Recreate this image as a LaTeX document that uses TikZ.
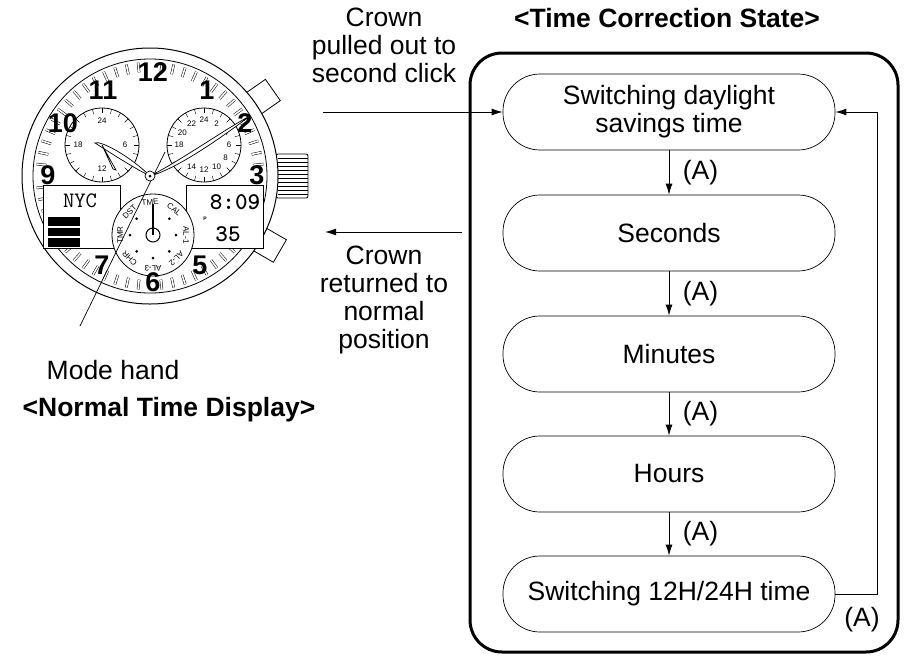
\documentclass[tikz,border=0pt]{standalone}
\usepackage{fontspec}
\setmainfont{Liberation Sans}
\usetikzlibrary{arrows.meta}
\usetikzlibrary{positioning}

\tikzset{
  state/.style={draw, line width=0.7pt, rounded corners=37pt, minimum width=332pt,
    minimum height=76pt, align=center, font=\fontsize{26.5}{28}\selectfont},
  arr/.style={line width=1pt, -{Latex[length=11pt,width=7pt]}},
  lbl/.style={font=\fontsize{26.5}{28}\selectfont, align=center},
  numb/.style={font=\fontsize{27}{27}\selectfont\bfseries},
  small/.style={font=\fontsize{8}{8}\selectfont, inner sep=0pt},
}

\begin{document}
\begin{tikzpicture}[x=1pt,y=-1pt]
\useasboundingbox (0,0) rectangle (912,662);

% watch
\begin{scope}[shift={(150,176)}]
\draw[line width=0.8pt,rotate=-30,fill=white] (112,-13) rectangle (150,13);
\draw[line width=0.8pt,rotate=35,fill=white] (112,-13) rectangle (150,13);
\draw[line width=0.8pt,fill=white,rounded corners=2pt] (126,-22) rectangle (158,22);
\foreach \y in {-18,-14,...,18}
  \draw (128,\y) -- (158,\y);
\draw[line width=1pt,fill=white] (0,0) circle (128);
\draw[line width=0.8pt] (0,0) circle (117);
\foreach \a in {0,6,...,354}
  \draw[double, double distance=1.6pt, line width=0.5pt] (\a:104) -- (\a:114);
\fill[white] (0,0) circle (100);
% lcds
\draw[line width=0.8pt,fill=white] (-107,9) rectangle (-30,72);
\draw[line width=0.8pt,fill=white] (36,9) rectangle (113,72);
\foreach \y in {41,51.5,62}
  \fill (-102,\y) rectangle (-70,\y+8.5);
\node[font=\fontsize{22}{22}\selectfont\ttfamily] (city) at (-70,25) {NYC};
\node[font=\fontsize{24}{24}\selectfont\ttfamily\bfseries] (time) at (85,26) {8:09};
\node[font=\fontsize{24}{24}\selectfont\ttfamily\bfseries] (secs) at (78,58) {35};
\node[font=\tiny\bfseries] (pm) at (55,43) {P};
% subdials
\foreach \cx/\cy/\r in {-48/-31/37, 54/-31/37, 3/59/41}
{
  \draw[line width=0.8pt,fill=white] (\cx,\cy) circle (\r);
}
\foreach \a in {0,15,...,345}
{
  \draw (-48,-31) ++(\a:32) -- ++(\a:5);
  \draw (54,-31) ++(\a:32) -- ++(\a:5);
}
\node[small] at (-48,-55) {24};
\node[small] at (-25,-31) {6};
\node[small] at (-48,-7) {12};
\node[small] at (-72,-31) {18};
\foreach \n/\a in {24/90,2/60,4/30,6/0,8/-30,10/-60,12/-90,14/-120,18/180,20/150,22/120}
  \node[small] at ([shift={(-\a:25)}]54,-31) {\n};
\foreach \t/\a in {TME/95,CAL/50,AL-1/0,AL-2/-45,AL-3/-90,CHR/-135,TMR/180,DST/135}
  \node[small,rotate={\a-90}] at ([shift={(-\a:33)}]3,59) {\t};
\foreach \a in {135,45,0,-45,-90,-135,180}
  \fill ([shift={(-\a:23)}]3,59) circle (1.5);
\draw[line width=1pt] (3,59) circle (7);
\draw[line width=1.5pt] (3,59) -- (3,28);
% numerals
\foreach \n/\x/\y in {12/3/-104, 1/57/-86, 2/95/-53, 3/107/-1, 5/50/89, 6/3/106, 7/-48/89, 9/-102/-1, 10/-87/-53, 11/-47/-86}
  \node[numb] at (\x,\y) {\n};
% hands
\draw[line width=0.7pt,fill=white] (0,0) .. controls (-20,-10) and (-50,-30) .. (-55,-33)
  .. controls (-50,-36) and (-20,-20) .. (0,0);
\draw[line width=0.7pt,fill=white] (-48,-31) -- (-34,-6) -- (-37,-7) -- cycle;
\draw[line width=0.7pt,fill=white] (0,0) .. controls (30,-15) and (80,-50) .. (100,-60)
  .. controls (80,-45) and (30,-8) .. (0,0);
\draw[line width=0.7pt] (-70,150) -- (15,-24);
\draw[line width=0.7pt,fill=white] (0,0) circle (5);
\fill (0,0) circle (1.5);
\end{scope}

% labels left
\node[lbl] (modehand) at (113,370) {Mode hand};
\node[lbl, font=\fontsize{26.5}{28}\selectfont\bfseries] (normal) at (169,410) {<Normal Time Display>};
\node[lbl, font=\fontsize{26.5}{28}\selectfont\bfseries] (title) at (667,18) {<Time Correction State>};
\node[lbl] (pull) at (384,45) {Crown\\pulled out to\\second click};
\node[lbl] (ret) at (384,300) {Crown\\returned to\\normal\\position};

% state box
\draw[line width=3pt, rounded corners=32pt] (470,53) rectangle (898,652);
\node[state] (dst) at (669,112) {Switching daylight\\savings time};
\node[state] (sec) at (669,233) {Seconds};
\node[state] (min) at (669,354) {Minutes};
\node[state] (hrs) at (669,474) {Hours};
\node[state] (fmt) at (669,594) {Switching 12H/24H time};

\coordinate (in) at (323,112);
\coordinate (out) at (325,232);
\coordinate (outstart) at (462,232);
\draw[arr] (in) -- (dst.west);
\draw[arr] (outstart) -- (out);

\foreach \a/\b in {dst/sec, sec/min, min/hrs, hrs/fmt}
{
  \draw[arr] (\a.south) -- (\b.north) node[midway, right=10pt, lbl] {(A)};
}
\draw[arr] (fmt.east) -- ++(42,0) |- (dst.east);
\node[lbl] (loopA) at (862,620) {(A)};
\end{tikzpicture}
\end{document}
